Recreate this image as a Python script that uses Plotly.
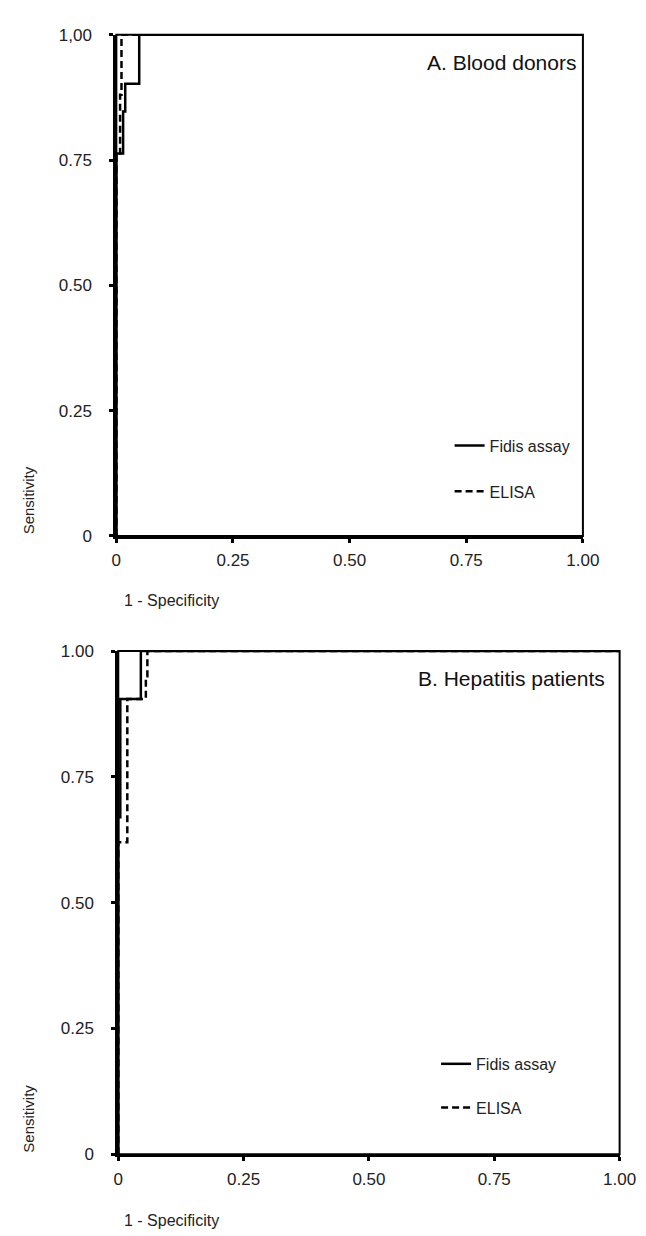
import plotly.graph_objects as go

W, H = 646, 1236

# Panel A: Blood donors (ROC step curves)
a_fidis_x = [0, 0, 0.0145, 0.0145, 0.019, 0.019, 0.049, 0.049, 1.0]
a_fidis_y = [0, 0.763, 0.763, 0.847, 0.847, 0.902, 0.902, 1.0, 1.0]
a_elisa_x = [0, 0, 0.008, 0.008, 0.011, 0.011, 1.0]
a_elisa_y = [0, 0.76, 0.76, 0.88, 0.88, 1.0, 1.0]

# Panel B: Hepatitis patients
b_fidis_x = [0, 0, 0.004, 0.004, 0.045, 0.045, 1.0]
b_fidis_y = [0, 0.67, 0.67, 0.905, 0.905, 1.0, 1.0]
b_elisa_x = [0, 0, 0.018, 0.018, 0.055, 0.055, 0.058, 0.058, 1.0]
b_elisa_y = [0, 0.62, 0.62, 0.905, 0.905, 0.95, 0.95, 1.0, 1.0]

tick_vals = [0, 0.25, 0.5, 0.75, 1.0]
a_y_ticktext = ["0", "0.25", "0.50", "0.75", "1,00"]
b_y_ticktext = ["0", "0.25", "0.50", "0.75", "1.00"]
x_ticktext = ["0", "0.25", "0.50", "0.75", "1.00"]

series_names = ["Fidis assay", "ELISA"]
panel_titles = ["A. Blood donors", "B. Hepatitis patients"]

FONT = "Liberation Sans, Arial, sans-serif"
LINE_W = 2.5

def px_x(p):
    return p / W

def px_y(p):
    return 1 - p / H

fig = go.Figure()

fig.add_trace(go.Scatter(x=a_fidis_x, y=a_fidis_y, mode="lines", name=series_names[0],
                         line=dict(color="black", width=LINE_W), xaxis="x", yaxis="y",
                         legend="legend", legendgroup="a1"))
fig.add_trace(go.Scatter(x=a_elisa_x, y=a_elisa_y, mode="lines", name=series_names[1],
                         line=dict(color="black", width=LINE_W, dash="7px,4px"), xaxis="x", yaxis="y",
                         legend="legend", legendgroup="a2"))
fig.add_trace(go.Scatter(x=b_fidis_x, y=b_fidis_y, mode="lines", name=series_names[0],
                         line=dict(color="black", width=LINE_W), xaxis="x2", yaxis="y2",
                         legend="legend2", legendgroup="b1"))
fig.add_trace(go.Scatter(x=b_elisa_x, y=b_elisa_y, mode="lines", name=series_names[1],
                         line=dict(color="black", width=LINE_W, dash="7px,4px"), xaxis="x2", yaxis="y2",
                         legend="legend2", legendgroup="b2"))

axis_common = dict(range=[0, 1.0], tickvals=tick_vals, showgrid=False, zeroline=False,
                   showline=True, linecolor="black", linewidth=3, ticks="outside",
                   ticklen=4, tickwidth=3, tickcolor="black", mirror=False,
                   tickfont=dict(family=FONT, size=17, color="#222"), fixedrange=True)

A_x = [px_x(107), px_x(590)]
A_y = [px_y(527), px_y(18)]
B_x = [px_x(109), px_x(628)]
B_y = [px_y(1155), px_y(644)]

legend_font = dict(family=FONT, size=16, color="#222")

fig.update_layout(
    width=W, height=H, margin=dict(l=0, r=0, t=0, b=0),
    plot_bgcolor="white", paper_bgcolor="white",
    xaxis=dict(axis_common, domain=A_x, anchor="y", ticktext=x_ticktext, ticklabelstandoff=3),
    yaxis=dict(axis_common, domain=A_y, anchor="x", ticktext=a_y_ticktext, ticklabelstandoff=14),
    xaxis2=dict(axis_common, domain=B_x, anchor="y2", ticktext=x_ticktext, ticklabelstandoff=3),
    yaxis2=dict(axis_common, domain=B_y, anchor="x2", ticktext=b_y_ticktext, ticklabelstandoff=14),
    legend=dict(x=px_x(452), y=px_y(418), xanchor="left", yanchor="top",
                font=legend_font, bgcolor="rgba(0,0,0,0)",
                tracegroupgap=22, itemwidth=30),
    legend2=dict(x=px_x(438), y=px_y(1046), xanchor="left", yanchor="top",
                 font=legend_font, bgcolor="rgba(0,0,0,0)",
                 tracegroupgap=20, itemwidth=30),
    showlegend=True,
)

# box frame (top and right edges)
for xr, yr in (("x", "y"), ("x2", "y2")):
    fig.add_shape(type="rect", xref=xr + " domain", yref=yr + " domain", x0=0, x1=1, y0=0, y1=1,
                  line=dict(color="black", width=2), layer="below")

# panel titles
fig.add_annotation(text=panel_titles[0], xref="x domain", yref="y domain", x=0.99, y=0.945,
                   xanchor="right", yanchor="middle", showarrow=False,
                   font=dict(family=FONT, size=21, color="#111"))
fig.add_annotation(text=panel_titles[1], xref="x2 domain", yref="y2 domain", x=0.975, y=0.945,
                   xanchor="right", yanchor="middle", showarrow=False,
                   font=dict(family=FONT, size=21, color="#111"))

# axis titles
for yr, ytop in (("y", 593), ("y2", 1222)):
    fig.add_annotation(text="Sensitivity", xref="paper", yref=yr, x=px_x(16), y=0,
                       xanchor="center", yanchor="bottom", textangle=-90, showarrow=False,
                       font=dict(family=FONT, size=15, color="#222"))
    fig.add_annotation(text="1 - Specificity", xref="paper", yref="paper", x=px_x(113), y=px_y(ytop),
                       xanchor="left", yanchor="middle", showarrow=False,
                       font=dict(family=FONT, size=16, color="#222"))

fig.write_html("out.html")
